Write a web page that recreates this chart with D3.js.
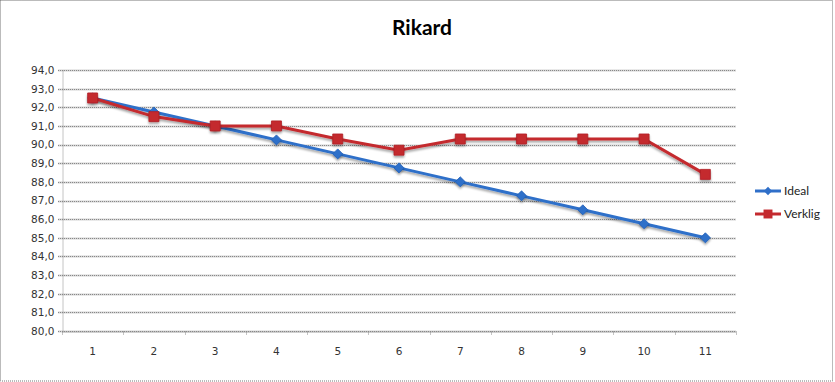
<!DOCTYPE html>
<html>
<head>
<meta charset="utf-8">
<script src="https://cdn.jsdelivr.net/npm/d3@7"></script>
<style>
  body { margin: 0; background: #fff; }
</style>
</head>
<body>
<svg id="chart" width="835" height="382"></svg>
<script>
// chart data
const categories = ["1", "2", "3", "4", "5", "6", "7", "8", "9", "10", "11"];
const ideal = [92.5, 91.75, 91.0, 90.25, 89.5, 88.75, 88.0, 87.25, 86.5, 85.75, 85.0];
const verklig = [92.5, 91.5, 91.0, 91.0, 90.3, 89.7, 90.3, 90.3, 90.3, 90.3, 88.4];
const yTicks = [80, 81, 82, 83, 84, 85, 86, 87, 88, 89, 90, 91, 92, 93, 94];
const seriesNames = ["Ideal", "Verklig"];

const width = 835;
const height = 382;
const margin = { left: 62, right: 99, top: 70, bottom: 51 };

const svg = d3.select("#chart");

// shadow for markers
const defs = svg.append("defs");
const f = defs.append("filter").attr("id", "shadow")
  .attr("x", "-50%").attr("y", "-50%").attr("width", "200%").attr("height", "200%");
f.append("feDropShadow")
  .attr("dx", 0).attr("dy", 2).attr("stdDeviation", 1.2)
  .attr("flood-color", "#000").attr("flood-opacity", 0.35);

// outer dotted border
svg.append("rect")
  .attr("x", 0.5).attr("y", 0.5)
  .attr("width", width - 3).attr("height", height - 1.5)
  .attr("fill", "none")
  .attr("stroke", "#777")
  .attr("stroke-dasharray", "1,1");

const x = d3.scaleBand()
  .domain(categories)
  .range([margin.left, width - margin.right]);

const y = d3.scaleLinear()
  .domain([80, 94])
  .range([height - margin.bottom, margin.top]);

// title
svg.append("text")
  .attr("x", 422).attr("y", 35)
  .attr("text-anchor", "middle")
  .attr("font-family", "Lato, sans-serif")
  .attr("font-weight", "bold")
  .attr("font-size", 21)
  .text("Rikard");

// gridlines: light gray band with dark dots on top
const grid = svg.append("g");
grid.selectAll("line.band")
  .data(yTicks)
  .join("line")
    .attr("class", "band")
    .attr("x1", margin.left - 4)
    .attr("x2", width - margin.right)
    .attr("y1", d => Math.round(y(d)) + 0.5)
    .attr("y2", d => Math.round(y(d)) + 0.5)
    .attr("stroke", "#d4d4d4")
    .attr("stroke-width", 2);
grid.selectAll("line.dots")
  .data(yTicks)
  .join("line")
    .attr("class", "dots")
    .attr("x1", margin.left - 4)
    .attr("x2", width - margin.right)
    .attr("y1", d => Math.round(y(d)) + 0.5)
    .attr("y2", d => Math.round(y(d)) + 0.5)
    .attr("stroke", "#888")
    .attr("stroke-width", 1)
    .attr("stroke-dasharray", "1,1");

// y axis
const yAxis = svg.append("g")
  .attr("transform", `translate(${margin.left + 0.5},0)`)
  .call(d3.axisLeft(y).tickValues(yTicks).tickSize(0).tickPadding(8)
    .tickFormat(d => d3.format(".1f")(d).replace(".", ",")));
yAxis.select(".domain").attr("stroke", "#888").attr("stroke-dasharray", "1,1");
yAxis.selectAll("text")
  .attr("font-family", "'DejaVu Sans', Verdana, sans-serif")
  .attr("font-size", 10.5)
  .attr("fill", "#333");

// x axis
const xAxis = svg.append("g")
  .attr("transform", `translate(0,${Math.round(y(80)) + 0.5})`)
  .call(d3.axisBottom(x).tickSize(0).tickPadding(16));
xAxis.select(".domain").attr("stroke", "#888").attr("stroke-dasharray", "1,1");
xAxis.selectAll("text")
  .attr("font-family", "'DejaVu Sans', Verdana, sans-serif")
  .attr("font-size", 10.5)
  .attr("fill", "#333");
// small tick marks between categories
xAxis.append("g")
  .selectAll("line")
  .data(categories.concat(["end"]))
  .join("line")
    .attr("x1", (d, i) => Math.round(margin.left + i * x.step()) + 0.5)
    .attr("x2", (d, i) => Math.round(margin.left + i * x.step()) + 0.5)
    .attr("y1", 0).attr("y2", 4)
    .attr("stroke", "#888")
    .attr("stroke-dasharray", "1,1");

const cx = d => x(d) + x.bandwidth() / 2;

const line = d3.line()
  .x((d, i) => cx(categories[i]))
  .y(d => y(d));

const blue = "#2f6fc9";
const red = "#c42a2f";

function drawSeries(values, color, shape) {
  const g = svg.append("g");
  g.append("path")
    .datum(values)
    .attr("d", line)
    .attr("fill", "none")
    .attr("stroke", color)
    .attr("stroke-width", 3)
    .attr("filter", "url(#shadow)");
  g.selectAll("path.m")
    .data(values)
    .join("path")
      .attr("class", "m")
      .attr("transform", (d, i) => `translate(${cx(categories[i])},${y(d)})`)
      .attr("d", shape === "diamond"
        ? d3.symbol(d3.symbolDiamond2, 64)()
        : d3.symbol(d3.symbolSquare, 100)())
      .attr("fill", color)
      .attr("stroke", shape === "diamond" ? "#1f5fb8" : "#b01f24")
      .attr("stroke-width", 0.8)
      .attr("filter", "url(#shadow)");
}

drawSeries(ideal, blue, "diamond");
drawSeries(verklig, red, "square");

// legend
const legend = svg.append("g");
[ideal, verklig].forEach((vals, i) => {
  const ly = 191 + i * 23;
  const color = i === 0 ? blue : red;
  legend.append("line")
    .attr("x1", 755).attr("x2", 781)
    .attr("y1", ly).attr("y2", ly)
    .attr("stroke", color).attr("stroke-width", 3);
  legend.append("path")
    .attr("transform", `translate(768,${ly})`)
    .attr("d", i === 0 ? d3.symbol(d3.symbolDiamond2, 44)() : d3.symbol(d3.symbolSquare, 80)())
    .attr("fill", color);
  legend.append("text")
    .attr("x", 784).attr("y", ly + 4)
    .attr("font-family", "Lato, 'Open Sans', sans-serif")
    .attr("font-size", 12)
    .attr("fill", "#222")
    .text(seriesNames[i]);
});
</script>
</body>
</html>
